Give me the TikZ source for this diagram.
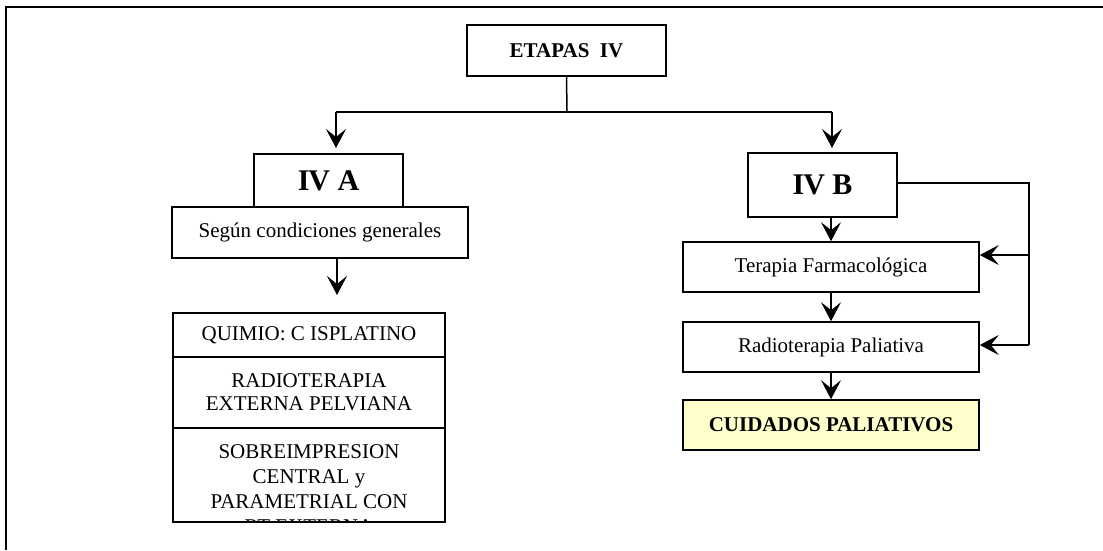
\documentclass[tikz,border=0pt]{standalone}
\usepackage{fontspec}
\setmainfont{Liberation Serif}
\usetikzlibrary{arrows.meta}
\definecolor{paleyellow}{RGB}{255,255,204}
\begin{document}
\begin{tikzpicture}[x=1pt,y=-1pt,
  box/.style={draw, line width=1.6pt, inner sep=0pt, align=center, font=\fontsize{21}{22.7}\selectfont},
  boldbox/.style={box, font=\fontsize{21}{22.7}\selectfont\bfseries},
  bigbox/.style={box, font=\fontsize{30}{32}\selectfont\bfseries},
  conn/.style={line width=1.5pt},
  arr/.style={conn, -{Stealth[length=19pt, width=20pt, inset=8pt]}},
  frameline/.style={line width=1.8pt}]
\useasboundingbox (0,0) rectangle (1103,550);
\draw[frameline] (6,550) -- (6,7) -- (1103,7);

% top
\node[boldbox, minimum width=199pt, minimum height=51pt] (etapas) at (566.5,50.5) {ETAPAS\ \ IV};
\coordinate (split) at (567,112);
\coordinate (lh) at (336,112);
\coordinate (rh) at (832,112);
\coordinate (ltip) at (336,148);
\coordinate (rtip) at (832,148);
\draw[conn] (etapas.south) -- (split);
\draw[conn] (lh) -- (rh);
\draw[arr] (lh) -- (ltip);
\draw[arr] (rh) -- (rtip);

% left branch
\node[bigbox, minimum width=149pt, minimum height=53pt] (iva) at (328.5,180.5) {I\kern-1pt V A};
\node[box, minimum width=296pt, minimum height=51pt] (segun) at (320,232.5) {Según condiciones generales};
\coordinate (sdown) at (337,295);
\draw[arr] (segun.south -| sdown) -- (sdown);

\node[box, minimum width=272pt, minimum height=44pt] (quimio) at (309,335) {QUIMIO: C ISPLATINO};
\node[box, minimum width=272pt, minimum height=71pt] (radext) at (309,392.5) {RADIOTERAPIA\\EXTERNA PELVIANA};
\node[box, minimum width=272pt, minimum height=94pt] (sobre) at (309,475) {};
\begin{scope}
  \clip (174,429) rectangle (444,521.3);
  \node[inner sep=0pt, anchor=north, align=center, font=\fontsize{21}{25}\selectfont] (sobretext) at (309,444) {SOBREIMPRESION\\CENTRAL y\\PARAMETRIAL CON\\RT EXTERNA};
\end{scope}

% right branch
\node[bigbox, minimum width=149pt, minimum height=64pt] (ivb) at (822.5,185) {I\kern-1pt V B};
\node[box, minimum width=296pt, minimum height=50pt] (terapia) at (831,267) {Terapia Farmacológica};
\node[box, minimum width=296pt, minimum height=50pt] (radpal) at (831,347) {Radioterapia Paliativa};
\node[boldbox, minimum width=296pt, minimum height=50pt, fill=paleyellow] (cuidados) at (831,425) {CUIDADOS PALIATIVOS};

\draw[arr] (ivb.south -| terapia.north) -- (terapia.north);
\draw[arr] (terapia.south) -- (radpal.north);
\draw[arr] (radpal.south) -- (cuidados.north);

\coordinate (rcorner) at (1029,183);
\coordinate (rbranch1) at (1029,255);
\coordinate (rbranch2) at (1029,345);
\draw[conn] (ivb.east |- rcorner) -- (rcorner) -- (rbranch2);
\draw[arr] (rbranch1) -- (terapia.east |- rbranch1);
\draw[arr] (rbranch2) -- (radpal.east |- rbranch2);
\end{tikzpicture}
\end{document}
